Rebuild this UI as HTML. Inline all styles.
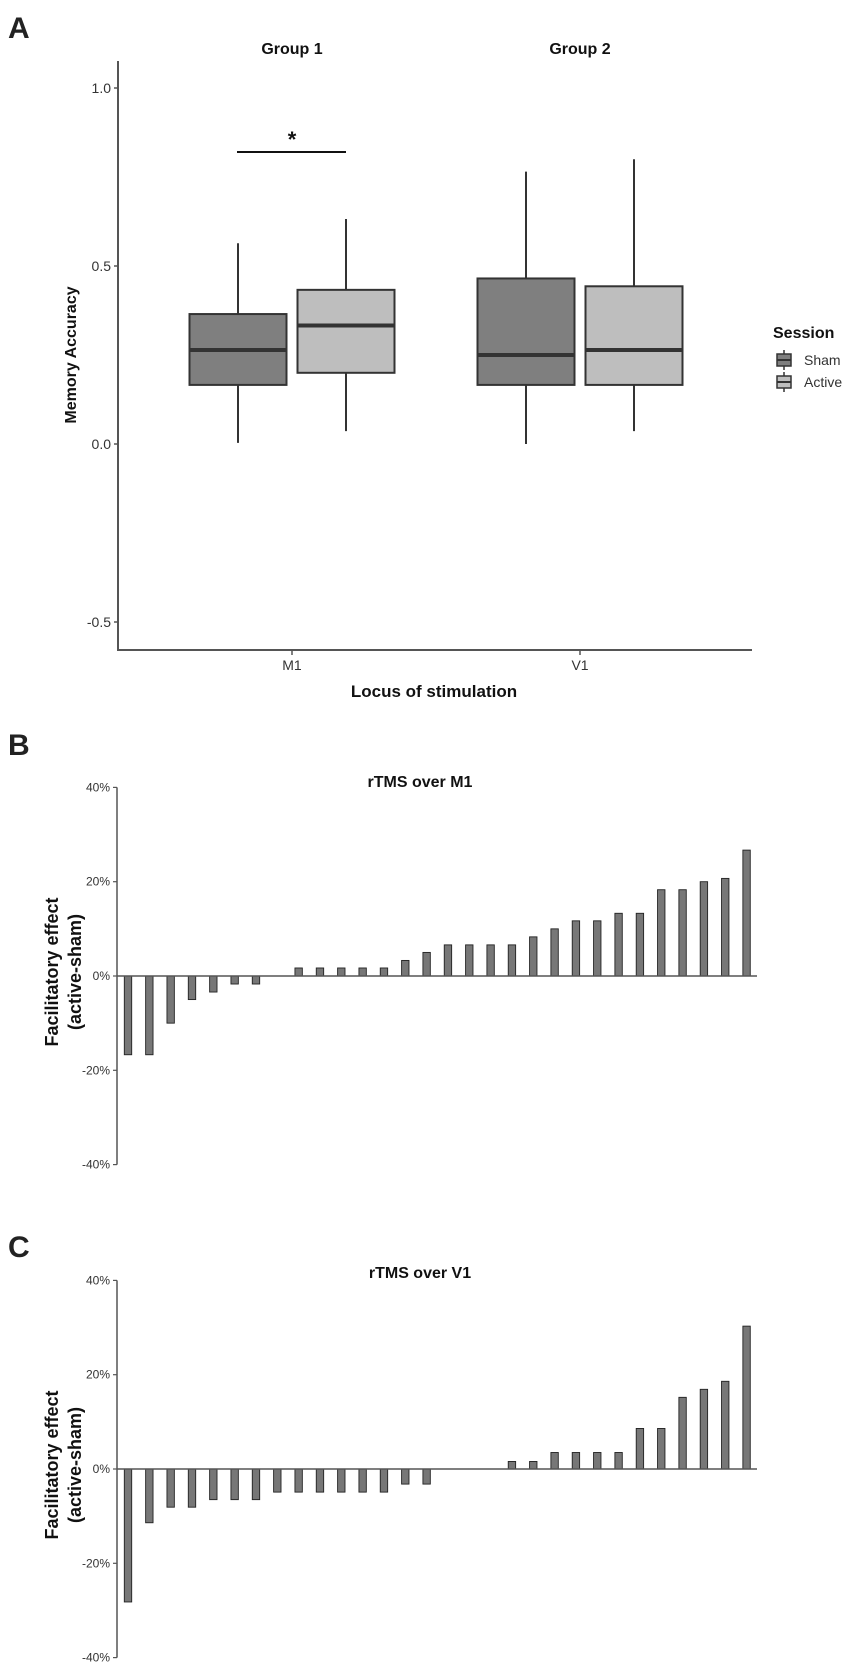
<!DOCTYPE html>
<html><head><meta charset="utf-8"><style>
html,body{margin:0;padding:0;background:#fff;}
svg{display:block;font-family:"Liberation Sans",Arial,sans-serif;}
</style></head><body>
<svg id="fig" width="851" height="1670" viewBox="0 0 851 1670">
<g id="pa"></g>
<g id="pb"></g>
<g id="pc"></g>
</svg>
<script>
// Panel A data
const groups = ["M1","V1"];
const groupTitles = ["Group 1","Group 2"];
const sessions = ["Sham","Active"];
const shamStats = [[0.003,0.166,0.264,0.365,0.564],[0.0,0.166,0.25,0.465,0.765]];
const activeStats = [[0.036,0.2,0.333,0.433,0.632],[0.036,0.166,0.264,0.443,0.8]];
const aTicks = [1.0,0.5,0.0,-0.5];
const aTickLabels = ["1.0","0.5","0.0","-0.5"];
// Panel B data
const bValues = [-16.7,-16.7,-10,-5,-3.4,-1.7,-1.7,0,1.7,1.7,1.7,1.7,1.7,3.3,5,6.6,6.6,6.6,6.6,8.3,10,11.7,11.7,13.3,13.3,18.3,18.3,20,20.7,26.7];
// Panel C data
const cValues = [-28.2,-11.4,-8.1,-8.1,-6.5,-6.5,-6.5,-4.9,-4.9,-4.9,-4.9,-4.9,-4.9,-3.2,-3.2,0,0,0,1.6,1.6,3.5,3.5,3.5,3.5,8.6,8.6,15.2,16.9,18.6,30.3];
const pctTicks = [40,20,0,-20,-40];
const pctTickLabels = ["40%","20%","0%","-20%","-40%"];

const NS="http://www.w3.org/2000/svg";
function mk(parent,tag,attrs,text){const e=document.createElementNS(NS,tag);for(const k in attrs)e.setAttribute(k,attrs[k]);if(text!==undefined)e.textContent=text;parent.appendChild(e);return e;}

// ---------- Panel A ----------
const pa=document.getElementById('pa');
const yA=v=>444-356*v;
const xA=i=>[292,580][i];
let t=mk(pa,'text',{x:8,y:38,'font-size':30,'font-weight':'bold',fill:'#222'},'A');

let l=mk(pa,'line',{x1:118,y1:61,x2:118,y2:651,stroke:'#555','stroke-width':2});

l=mk(pa,'line',{x1:117,y1:650,x2:752,y2:650,stroke:'#555','stroke-width':2});

aTicks.forEach((v,i)=>{
  const y=yA(v);
  let tk=mk(pa,'line',{x1:114,y1:y,x2:118,y2:y,stroke:'#555','stroke-width':1.5});
  
  let tl=mk(pa,'text',{x:111,y:y+5,'font-size':14,'text-anchor':'end',fill:'#333'},aTickLabels[i]);
  
});
groups.forEach((g,i)=>{
  let tk=mk(pa,'line',{x1:xA(i),y1:650,x2:xA(i),y2:655,stroke:'#555','stroke-width':1.5});
  
  let tl=mk(pa,'text',{x:xA(i),y:670,'font-size':14,'text-anchor':'middle',fill:'#333'},g);
  
  let gt=mk(pa,'text',{x:xA(i),y:54,'font-size':16,'font-weight':'bold','text-anchor':'middle',fill:'#111'},groupTitles[i]);
  
  [[shamStats,'#7f7f7f',-54],[activeStats,'#bebebe',54]].forEach(([st,fill,off])=>{
    const s=st[i];const cx=xA(i)+off;const w=97;
    const g2=mk(pa,'g',{});
    
    
    mk(g2,'line',{x1:cx,y1:yA(s[0]),x2:cx,y2:yA(s[4]),stroke:'#333','stroke-width':2});
    mk(g2,'rect',{x:cx-w/2,y:yA(s[3]),width:w,height:yA(s[1])-yA(s[3]),fill:fill,stroke:'#333','stroke-width':2});
    mk(g2,'line',{x1:cx-w/2,y1:yA(s[2]),x2:cx+w/2,y2:yA(s[2]),stroke:'#333','stroke-width':4});
  });
});
l=mk(pa,'line',{x1:237,y1:152,x2:346,y2:152,stroke:'#111','stroke-width':2});

t=mk(pa,'text',{x:292,y:147,'font-size':22,'font-weight':'bold','text-anchor':'middle',fill:'#111'},'*');

t=mk(pa,'text',{x:0,y:0,'font-size':16,'font-weight':'bold','text-anchor':'middle',fill:'#111',transform:'translate(76,355) rotate(-90)'},'Memory Accuracy');

t=mk(pa,'text',{x:434,y:697,'font-size':17,'font-weight':'bold','text-anchor':'middle',fill:'#111'},'Locus of stimulation');

const lg=mk(pa,'g',{});

t=mk(lg,'text',{x:773,y:338,'font-size':16,'font-weight':'bold',fill:'#111'},'Session');

sessions.forEach((s,i)=>{
  const y=360+i*22;const fill=i===0?'#7f7f7f':'#bebebe';
  const e=mk(lg,'g',{});
  
  
  mk(e,'line',{x1:784,y1:y-10,x2:784,y2:y+10,stroke:'#333','stroke-width':1.5});
  mk(e,'rect',{x:777,y:y-6,width:14,height:12,fill:fill,stroke:'#333','stroke-width':1.5});
  mk(e,'line',{x1:777,y1:y,x2:791,y2:y,stroke:'#333','stroke-width':2});
  mk(e,'text',{x:804,y:y+5,'font-size':14,fill:'#333'},s);
});

// ---------- Bar panels ----------
function barPanel(root,label,labelY,title,titleY,zeroY,vals,nm){
  const yS=v=>zeroY-v*4.715;
  const xS=k=>128+21.33*k;
  let t=mk(root,'text',{x:8,y:labelY+12,'font-size':30,'font-weight':'bold',fill:'#222'},label);
  
  t=mk(root,'text',{x:420,y:titleY+6,'font-size':16,'font-weight':'bold','text-anchor':'middle',fill:'#111'},title);
  
  let a=mk(root,'line',{x1:117,y1:yS(40),x2:117,y2:yS(-40),stroke:'#555','stroke-width':1.5});
  
  pctTicks.forEach((v,i)=>{
    let tk=mk(root,'line',{x1:113,y1:yS(v),x2:117,y2:yS(v),stroke:'#555','stroke-width':1.2});
    
    let tl=mk(root,'text',{x:110,y:yS(v)+4,'font-size':12,'text-anchor':'end',fill:'#333'},pctTickLabels[i]);
    
  });
  vals.forEach((v,k)=>{
    if(v===0)return;
    const top=Math.min(yS(v),yS(0)),h=Math.abs(yS(v)-yS(0));
    let b=mk(root,'rect',{x:xS(k)-3.7,y:top,width:7.4,height:h,fill:'#777',stroke:'#222','stroke-width':0.9});
    
  });
  a=mk(root,'line',{x1:117,y1:yS(0),x2:757,y2:yS(0),stroke:'#555','stroke-width':1.5});
  
  const cy=(yS(40)+yS(-40))/2;
  t=mk(root,'text',{x:0,y:0,'font-size':18,'font-weight':'bold','text-anchor':'middle',fill:'#111',transform:'translate(58,'+(cy-4)+') rotate(-90)'},'Facilitatory effect');
  
  t=mk(root,'text',{x:0,y:0,'font-size':18,'font-weight':'bold','text-anchor':'middle',fill:'#111',transform:'translate(81,'+(cy-4)+') rotate(-90)'},'(active-sham)');
  
}
barPanel(document.getElementById('pb'),'B',743,'rTMS over M1',781,976,bValues,'b');
barPanel(document.getElementById('pc'),'C',1245,'rTMS over V1',1272,1469,cValues,'c');
</script>
</body></html>
